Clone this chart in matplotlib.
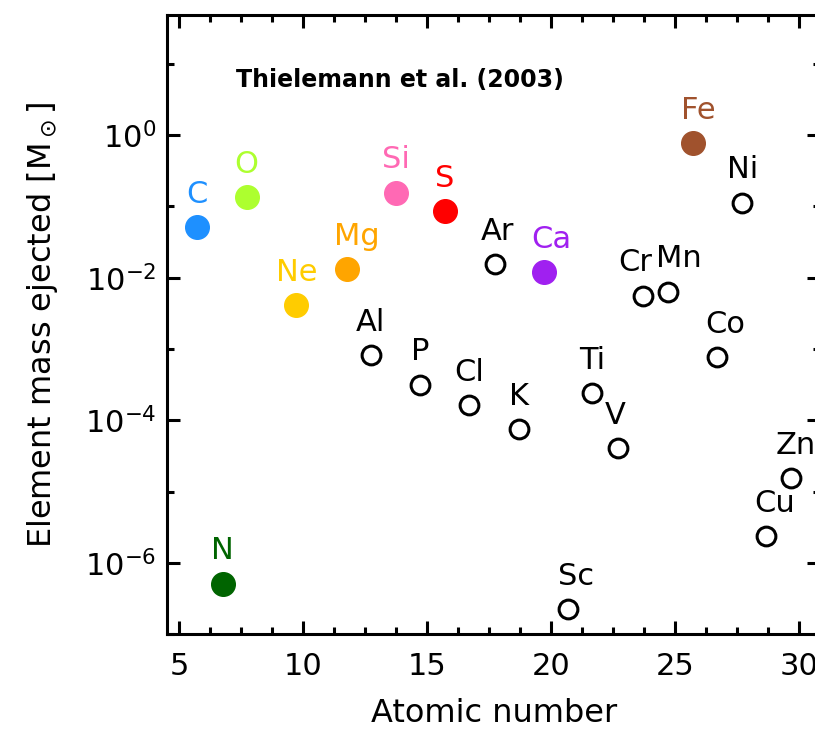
import numpy as np
import matplotlib.pyplot as plt

# element symbols, plotted x position, mass ejected [Msun]
elements = ["C", "N", "O", "Ne", "Mg", "Al", "Si", "P", "S", "Cl", "Ar", "K", "Ca",
            "Sc", "Ti", "V", "Cr", "Mn", "Fe", "Co", "Ni", "Cu", "Zn"]
x_pos = [5.73, 6.75, 7.72, 9.73, 11.75, 12.72, 13.74, 14.71, 15.71, 16.69, 17.73, 18.70,
         19.72, 20.69, 21.67, 22.70, 23.71, 24.72, 25.73, 26.69, 27.72, 28.69, 29.69]
mass = [5.06e-2, 5.15e-7, 1.35e-1, 4.16e-3, 1.32e-2, 8.14e-4, 1.56e-1, 3.17e-4, 8.63e-2,
        1.63e-4, 1.55e-2, 7.54e-5, 1.21e-2, 2.23e-7, 2.38e-4, 4.05e-5, 5.61e-3, 6.37e-3,
        7.61e-1, 7.73e-4, 1.13e-1, 2.41e-6, 1.54e-5]

# highlighted elements (filled dots)
colours = {"C": "#1e90ff", "N": "#006400", "O": "#adff2f", "Ne": "#ffcc00",
           "Mg": "#ffa500", "Si": "#ff69b4", "S": "#ff0000", "Ca": "#a020f0",
           "Fe": "#a0522d"}

# small horizontal nudges of labels (pixels)
nudge = {"Mg": 10, "Ca": 7, "Cr": -8, "Mn": 11, "Fe": 5, "Co": 8, "Cu": 8, "Sc": 8, "Zn": 5,
         "V": -3, "Ar": 3}

plt.rcParams['font.family'] = ['DejaVu Sans']
plt.rcParams['mathtext.fontset'] = 'dejavusans'

fig = plt.figure(figsize=(8.15, 7.3), dpi=100)
ax = fig.add_axes([0.2053, 0.1311, 0.8008, 0.8484])

for el, x, m in zip(elements, x_pos, mass):
    if el in colours:
        c = colours[el]
        ax.plot(x, m, 'o', ms=17, color=c, mec=c, zorder=3)
    else:
        c = 'black'
        ax.plot(x, m, 'o', ms=13.5, mfc='none', mec='black', mew=2.2, zorder=3)
    ax.annotate(el, (x, m), xytext=(nudge.get(el, 0) * 0.72, 23.5), textcoords='offset points',
                ha='center', va='center', fontsize=22, color=c)

ax.set_yscale('log')
ax.set_xlim(4.52, 30.85)
ax.set_ylim(10**-6.97, 10**1.683)

ax.set_xticks([5, 10, 15, 20, 25, 30])
ax.set_xticks(np.arange(5, 31, 1.25), minor=True)
ax.set_yticks([1e-6, 1e-4, 1e-2, 1e0])
ax.set_yticks([1e-7, 1e-5, 1e-3, 1e-1, 1e1], minor=True)
ax.yaxis.set_minor_formatter(plt.NullFormatter())

ax.tick_params(which='both', direction='in', top=True, right=True, width=2.2, labelsize=22)
ax.tick_params(which='major', length=9.5)
ax.tick_params(which='minor', length=5)
ax.tick_params(axis='x', pad=13)
ax.tick_params(axis='y', pad=8)
for s in ax.spines.values():
    s.set_linewidth(2.2)

ax.set_xlabel("Atomic number", fontsize=23, labelpad=12)
ax.set_ylabel(r"Element mass ejected [M$_\odot$]", fontsize=23)
ax.yaxis.set_label_coords(-0.164, 0.5)

ax.text(0.3565, 0.895, "Thielemann et al. (2003)", transform=ax.transAxes,
        ha='center', va='center', fontsize=17, fontweight='bold')

fig.savefig("out.png", dpi=100)
